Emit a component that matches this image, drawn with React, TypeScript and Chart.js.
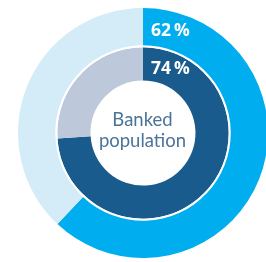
import React, { useEffect, useRef } from "react";
import { Chart, registerables } from "chart.js";

Chart.register(...registerables);

const ringLabels = ["Banked", "Unbanked"];
const outerValues = [62, 38];
const innerValues = [74, 26];
const outerLabel = "62\u2009%";
const innerLabel = "74\u2009%";
const centerLines = ["Banked", "population"];

export default function App() {
  const ref = useRef<HTMLCanvasElement | null>(null);
  useEffect(() => {
    if (!ref.current) return;
    const chart = new Chart(ref.current, {
      type: "doughnut",
      data: {
        labels: ringLabels,
        datasets: [
          {
            data: outerValues,
            backgroundColor: ["#00aeef", "#d3ecf8"],
            borderWidth: 0,
            weight: 37,
          },
          {
            data: [1],
            backgroundColor: ["#ffffff"],
            borderWidth: 0,
            weight: 2,
          },
          {
            data: innerValues,
            backgroundColor: ["#195b8c", "#bdc9db"],
            borderWidth: 0,
            weight: 33,
          },
        ],
      },
      options: {
        responsive: false,
        animation: false,
        cutout: "42%",
        layout: { padding: 0 },
        plugins: { legend: { display: false }, tooltip: { enabled: false } },
      },
    });
    return () => chart.destroy();
  }, []);

  const labelStyle: React.CSSProperties = {
    position: "absolute",
    left: 151,
    color: "#ffffff",
    fontFamily: "'Open Sans', sans-serif",
    fontWeight: 700,
    fontSize: 17.5,
    lineHeight: "17px",
    whiteSpace: "nowrap",
  };

  return (
    <div
      style={{
        position: "fixed",
        left: 0,
        top: 0,
        width: 266,
        height: 262,
        overflow: "hidden",
        background: "#ffffff",
      }}
    >
      <canvas
        ref={ref}
        width={250}
        height={250}
        style={{ position: "absolute", left: 18, top: 8, width: 250, height: 250 }}
      />
      <div style={{ ...labelStyle, top: 20.5 }}>{outerLabel}</div>
      <div style={{ ...labelStyle, top: 59 }}>{innerLabel}</div>
      <div
        style={{
          position: "absolute",
          left: 87,
          width: 111,
          top: 109,
          textAlign: "center",
          color: "#4a7398",
          fontFamily: "Lato, sans-serif",
          fontWeight: 400,
          fontSize: 18.5,
          lineHeight: "20.5px",
          whiteSpace: "nowrap",
        }}
      >
        {centerLines.map((l) => (
          <div key={l}>{l}</div>
        ))}
      </div>
    </div>
  );
}
